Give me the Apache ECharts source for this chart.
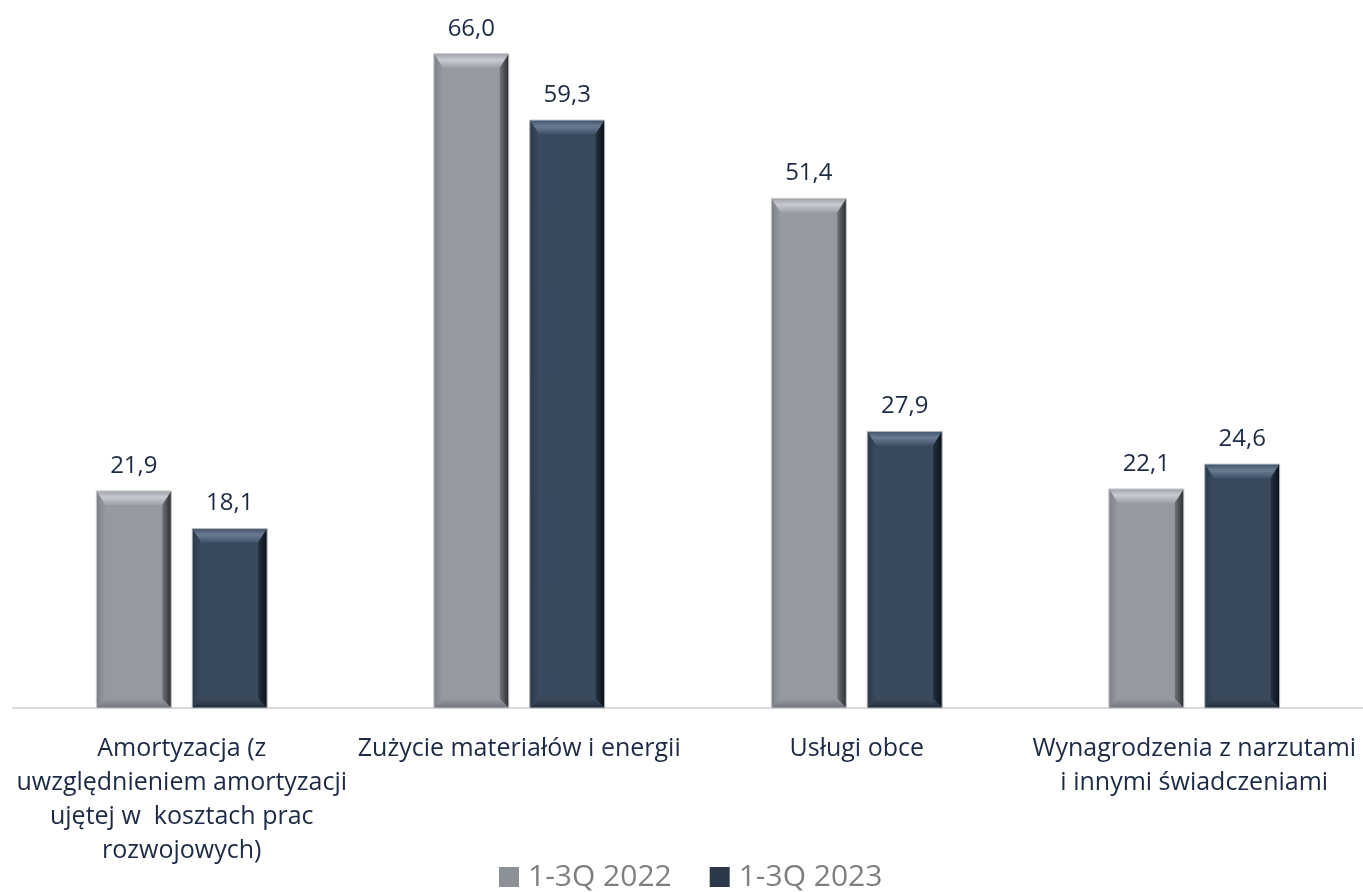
<!DOCTYPE html>
<html>
<head>
<meta charset="utf-8">
<script src="https://cdn.jsdelivr.net/npm/echarts@6/dist/echarts.min.js"></script>
<style>
html,body{margin:0;padding:0;background:#fff;}
#c{width:1363px;height:892px;}
</style>
</head>
<body>
<div id="c"></div>
<script>
const categories = [
  'Amortyzacja (z\nuwzględnieniem amortyzacji\nujętej w  kosztach prac\nrozwojowych)',
  'Zużycie materiałów i energii',
  'Usługi obce',
  'Wynagrodzenia z narzutami\ni innymi świadczeniami'
];
const seriesNames = ['1-3Q 2022', '1-3Q 2023'];
const values2022 = [21.9, 66.0, 51.4, 22.1];
const values2023 = [18.1, 59.3, 27.9, 24.6];

const palettes = [
  {body:'#959aa2', topA:'#c8cbd0', topB:'#9ea2a9', left0:'#7d8087', left1:'#959aa2', right0:'#707378', right1:'#2a2c2f', bottom:'#6f7278', border:'#c9cbce', legend:'#8b8f96'},
  {body:'#3a4a5d', topA:'#6a7b92', topB:'#41536a', left0:'#2c3a4a', left1:'#3a4a5d', right0:'#26323f', right1:'#0a0f15', bottom:'#222c38', border:'#b9bec4', legend:'#2b394b'}
];

function makeRender(sIdx){
  const pal = palettes[sIdx];
  return function(params, api){
    const idx = api.value(0);
    const val = api.value(1);
    const base = api.coord([idx, 0]);
    const topP = api.coord([idx, val]);
    const band = api.size([1, 0])[0];
    const w = band * 0.222;
    const off = band * 0.142 * (sIdx === 0 ? -1 : 1);
    const cx = base[0] + off;
    const x0 = cx - w/2, x1 = cx + w/2;
    const y0 = topP[1], yb = base[1];
    const s = 9, t = 14, b = 9;
    const children = [
      {type:'rect', shape:{x:x0, y:y0, width:w, height:yb-y0}, style:{fill:pal.body}},
      {type:'polygon', shape:{points:[[x0,y0],[x1,y0],[x1-s,y0+t],[x0+s,y0+t]]},
        style:{fill:new echarts.graphic.LinearGradient(0,0,0,1,[
          {offset:0,color:pal.topB},{offset:0.45,color:pal.topA},{offset:1,color:pal.topB}])}},
      {type:'polygon', shape:{points:[[x0,y0],[x0+s,y0+t],[x0+s,yb-b],[x0,yb]]},
        style:{fill:new echarts.graphic.LinearGradient(0,0,1,0,[
          {offset:0,color:pal.left0},{offset:1,color:pal.left1}])}},
      {type:'polygon', shape:{points:[[x1,y0],[x1-s,y0+t],[x1-s,yb-b],[x1,yb]]},
        style:{fill:new echarts.graphic.LinearGradient(0,0,1,0,[
          {offset:0,color:pal.right0},{offset:1,color:pal.right1}])}},
      {type:'polygon', shape:{points:[[x0,yb],[x0+s,yb-b],[x1-s,yb-b],[x1,yb]]},
        style:{fill:new echarts.graphic.LinearGradient(0,0,0,1,[
          {offset:0,color:pal.body},{offset:1,color:pal.bottom}])}},
      {type:'rect', shape:{x:x0, y:y0, width:w, height:yb-y0}, style:{fill:null, stroke:pal.border, lineWidth:1}},
      {type:'text', x:cx, y:y0-13, style:{text:val.toFixed(1).replace('.', ','), fill:'#1c2a45',
        font:'24px "Open Sans", sans-serif', textAlign:'center', textVerticalAlign:'bottom'}}
    ];
    return {type:'group', children:children};
  };
}

const chart = echarts.init(document.getElementById('c'), null, {renderer:'canvas'});
chart.setOption({
  animation:false,
  backgroundColor:'#fff',
  grid:{left:13, right:0, top:14, bottom:184, containLabel:false},
  legend:{
    bottom:0, left:499, padding:0,
    data:[{name:seriesNames[0], icon:'rect'},{name:seriesNames[1], icon:'rect'}],
    itemWidth:20, itemHeight:20, itemGap:38,
    textStyle:{fontSize:30, color:'#7f7f7f', fontFamily:'Open Sans', padding:[0,0,0,4]}
  },
  xAxis:{
    type:'category', data:categories,
    axisLine:{show:true, lineStyle:{color:'#d9d9d9', width:2}},
    axisTick:{show:false},
    axisLabel:{interval:0, margin:24, fontSize:25, lineHeight:34, color:'#1c2a45', fontFamily:'Open Sans', align:'center'}
  },
  yAxis:{type:'value', min:0, max:70, show:false, splitLine:{show:false}},
  series:[
    {name:seriesNames[0], type:'custom', itemStyle:{color:palettes[0].legend},
      data:values2022.map((v,i)=>[i,v]), renderItem:makeRender(0), encode:{x:0,y:1}},
    {name:seriesNames[1], type:'custom', itemStyle:{color:palettes[1].legend},
      data:values2023.map((v,i)=>[i,v]), renderItem:makeRender(1), encode:{x:0,y:1}}
  ]
});
</script>
</body>
</html>
